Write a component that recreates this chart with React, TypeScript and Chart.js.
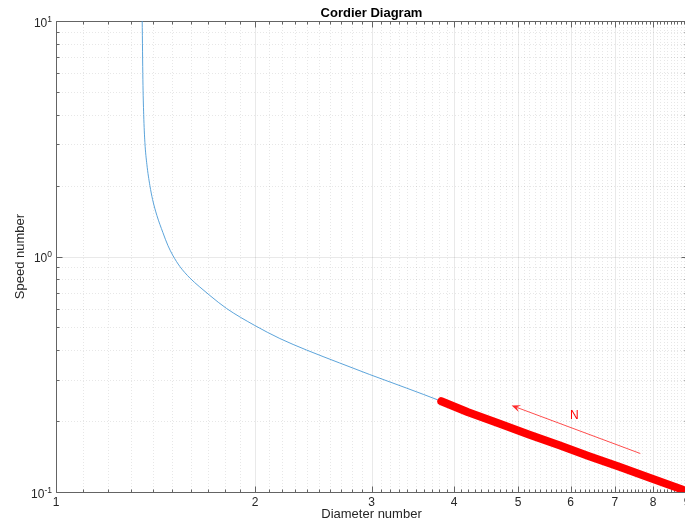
import React, { useEffect, useRef } from 'react';
import { Chart, registerables } from 'chart.js';

Chart.register(...registerables);

const FONT = "'Liberation Sans', Arial, Helvetica, sans-serif";

// Blue curve (diameter number vs speed number)
const curveX = [1.3486, 1.3500, 1.3533, 1.3571, 1.3628, 1.3723, 1.3867, 1.3998, 1.4210, 1.4509, 1.4764, 1.5023, 1.5393, 1.5940, 1.6465, 1.7089, 1.8112, 1.9984, 2.1800, 2.3919, 2.6853, 2.9806, 3.3869, 3.8245, 4.2, 4.69, 5.2, 5.77, 6.4, 7.11, 7.9, 8.85, 9.0];
const curveY = [12.34, 10.05, 5.645, 4.009, 3.049, 2.459, 2.002, 1.746, 1.493, 1.264, 1.114, 1.010, 0.9069, 0.8102, 0.7458, 0.6830, 0.6015, 0.5093, 0.4485, 0.4009, 0.3530, 0.3155, 0.2764, 0.2429, 0.218, 0.195, 0.175, 0.158, 0.142, 0.128, 0.115, 0.1025, 0.100];

// Red operating segment
const opX = [3.825, 4.2, 4.69, 5.2, 5.77, 6.4, 7.11, 7.9, 8.85, 9.0];
const opY = [0.243, 0.218, 0.195, 0.175, 0.158, 0.142, 0.128, 0.115, 0.1025, 0.100];

// Axes
const xMajorTicks = [1, 2, 3, 4, 5, 6, 7, 8, 9];
const xTickLabels = ['1', '2', '3', '4', '5', '6', '7', '8', '9'];
const yMajorTicks = [0.1, 1, 10];
const yTickExponents = ['-1', '0', '1'];
const yDecades = [0.1, 1];
const yMinorMultipliers = [2, 3, 4, 5, 6, 7, 8, 9];

// Annotation (data coordinates)
const arrowTail = [7.65, 0.1457];
const arrowTip = [4.886, 0.233];
const arrowLabelPos = [6.08, 0.2133];
const arrowLabel = 'N';

const titleText = 'Cordier Diagram';
const xTitle = 'Diameter number';
const yTitle = 'Speed number';

const xMinorTicks: number[] = [];
for (let i = 0; i < xMajorTicks.length - 1; i++) {
  const a = xMajorTicks[i];
  const b = xMajorTicks[i + 1];
  for (let k = 1; k < 10; k++) xMinorTicks.push(a + ((b - a) * k) / 10);
}
const yMinorTicks: number[] = [];
yDecades.forEach((d) => yMinorMultipliers.forEach((m) => yMinorTicks.push(d * m)));

const AXIS_COLOR = 'rgb(100,100,100)';
const TEXT_COLOR = '#262626';

const axesPlugin = {
  id: 'matlabAxes',
  beforeDatasetsDraw(chart: any) {
    const { ctx, chartArea: a } = chart;
    const xs = chart.scales.x;
    const ys = chart.scales.y;
    const px = (v: number) => Math.round(xs.getPixelForValue(v)) + 0.5;
    const py = (v: number) => Math.round(ys.getPixelForValue(v)) + 0.5;
    ctx.save();
    ctx.beginPath();
    ctx.rect(a.left, a.top, a.right - a.left, a.bottom - a.top);
    ctx.clip();
    ctx.lineWidth = 1;
    // minor grid (dotted)
    ctx.strokeStyle = 'rgba(38,38,38,0.11)';
    ctx.setLineDash([1, 2]);
    ctx.beginPath();
    xMinorTicks.forEach((v) => {
      const p = px(v);
      ctx.moveTo(p, a.top);
      ctx.lineTo(p, a.bottom);
    });
    yMinorTicks.forEach((v) => {
      const p = py(v);
      ctx.moveTo(a.left, p);
      ctx.lineTo(a.right, p);
    });
    ctx.stroke();
    // major grid (solid)
    ctx.setLineDash([]);
    ctx.strokeStyle = 'rgba(38,38,38,0.10)';
    ctx.beginPath();
    xMajorTicks.forEach((v) => {
      const p = px(v);
      ctx.moveTo(p, a.top);
      ctx.lineTo(p, a.bottom);
    });
    yMajorTicks.forEach((v) => {
      const p = py(v);
      ctx.moveTo(a.left, p);
      ctx.lineTo(a.right, p);
    });
    ctx.stroke();
    ctx.restore();

    // box + inward ticks
    ctx.save();
    ctx.strokeStyle = AXIS_COLOR;
    ctx.lineWidth = 1;
    const L = px(xMajorTicks[0]);
    const R = px(xMajorTicks[xMajorTicks.length - 1]);
    const B = py(yMajorTicks[0]);
    const T = py(yMajorTicks[yMajorTicks.length - 1]);
    ctx.beginPath();
    ctx.moveTo(L, T);
    ctx.lineTo(L, B);
    ctx.lineTo(R, B);
    ctx.lineTo(R, T);
    ctx.lineTo(L, T);
    const major = 6;
    const minor = 3;
    xMajorTicks.forEach((v) => {
      const p = px(v);
      ctx.moveTo(p, B); ctx.lineTo(p, B - major);
      ctx.moveTo(p, T); ctx.lineTo(p, T + major);
    });
    xMinorTicks.forEach((v) => {
      const p = px(v);
      ctx.moveTo(p, B); ctx.lineTo(p, B - minor);
      ctx.moveTo(p, T); ctx.lineTo(p, T + minor);
    });
    yMajorTicks.forEach((v) => {
      const p = py(v);
      ctx.moveTo(L, p); ctx.lineTo(L + major, p);
      ctx.moveTo(R, p); ctx.lineTo(R - major, p);
    });
    yMinorTicks.forEach((v) => {
      const p = py(v);
      ctx.moveTo(L, p); ctx.lineTo(L + minor, p);
      ctx.moveTo(R, p); ctx.lineTo(R - minor, p);
    });
    ctx.stroke();
    ctx.restore();
  },
  afterDatasetsDraw(chart: any) {
    const { ctx } = chart;
    const xs = chart.scales.x;
    const ys = chart.scales.y;
    const x0 = xs.getPixelForValue(arrowTail[0]);
    const y0 = ys.getPixelForValue(arrowTail[1]);
    const x1 = xs.getPixelForValue(arrowTip[0]);
    const y1 = ys.getPixelForValue(arrowTip[1]);
    const len = Math.hypot(x1 - x0, y1 - y0);
    const ux = (x1 - x0) / len;
    const uy = (y1 - y0) / len;
    const nx = -uy;
    const ny = ux;
    const hl = 9;
    const hw = 3.6;
    ctx.save();
    ctx.strokeStyle = '#ff0000';
    ctx.lineWidth = 0.7;
    ctx.beginPath();
    ctx.moveTo(x0, y0);
    ctx.lineTo(x1 - ux * hl * 0.6, y1 - uy * hl * 0.6);
    ctx.stroke();
    ctx.fillStyle = '#ff2a2a';
    ctx.beginPath();
    ctx.moveTo(x1, y1);
    ctx.lineTo(x1 - ux * hl + nx * hw, y1 - uy * hl + ny * hw);
    ctx.lineTo(x1 - ux * hl * 0.6, y1 - uy * hl * 0.6);
    ctx.lineTo(x1 - ux * hl - nx * hw, y1 - uy * hl - ny * hw);
    ctx.closePath();
    ctx.fill();
    ctx.fillStyle = '#ff0000';
    ctx.font = `12px ${FONT}`;
    ctx.textAlign = 'center';
    ctx.textBaseline = 'alphabetic';
    ctx.fillText(arrowLabel, xs.getPixelForValue(arrowLabelPos[0]), ys.getPixelForValue(arrowLabelPos[1]) + 4.3);
    ctx.restore();
  },
  afterDraw(chart: any) {
    const { ctx, chartArea: a } = chart;
    const xs = chart.scales.x;
    const ys = chart.scales.y;
    ctx.save();
    ctx.fillStyle = TEXT_COLOR;
    // x tick labels
    ctx.font = `12px ${FONT}`;
    ctx.textAlign = 'center';
    ctx.textBaseline = 'alphabetic';
    xMajorTicks.forEach((v, i) => {
      ctx.fillText(xTickLabels[i], xs.getPixelForValue(v), a.bottom + 14);
    });
    // y tick labels 10^e
    yMajorTicks.forEach((v, i) => {
      const p = ys.getPixelForValue(v);
      ctx.font = `8.5px ${FONT}`;
      const ew = ctx.measureText(yTickExponents[i]).width;
      ctx.font = `12px ${FONT}`;
      const bw = ctx.measureText('10').width;
      const right = a.left - 4;
      ctx.textAlign = 'left';
      ctx.fillText('10', right - ew - bw, p + 5.5);
      ctx.font = `8.5px ${FONT}`;
      ctx.fillText(yTickExponents[i], right - ew, p + 0.5);
    });
    // axis titles
    ctx.font = `13px ${FONT}`;
    ctx.textAlign = 'center';
    ctx.fillText(xTitle, (a.left + a.right) / 2, a.bottom + 26);
    ctx.save();
    ctx.translate(24, (a.top + a.bottom) / 2);
    ctx.rotate(-Math.PI / 2);
    ctx.fillText(yTitle, 0, 0);
    ctx.restore();
    // title
    ctx.fillStyle = '#000';
    ctx.font = `bold 13px ${FONT}`;
    ctx.fillText(titleText, (a.left + a.right) / 2, a.top - 4);
    ctx.restore();
  },
};

export default function App() {
  const ref = useRef<HTMLCanvasElement | null>(null);
  useEffect(() => {
    if (!ref.current) return;
    const chart = new Chart(ref.current, {
      type: 'line',
      data: {
        datasets: [
          {
            label: 'operating',
            data: opX.map((x, i) => ({ x, y: opY[i] })),
            borderColor: '#ff0000',
            borderWidth: 8,
            borderCapStyle: 'round',
            borderJoinStyle: 'round',
            pointRadius: 0,
            tension: 0,
            fill: false,
          },
          {
            label: 'curve',
            data: curveX.map((x, i) => ({ x, y: curveY[i] })),
            borderColor: '#4a9ad6',
            borderWidth: 0.9,
            pointRadius: 0,
            cubicInterpolationMode: 'monotone',
            fill: false,
          },
        ],
      },
      options: {
        animation: false,
        responsive: false,
        events: [],
        layout: { padding: { left: 56, top: 21, right: 13, bottom: 32 } },
        scales: {
          x: { type: 'logarithmic', min: 1, max: 9, display: false },
          y: { type: 'logarithmic', min: 0.1, max: 10, display: false },
        },
        plugins: {
          legend: { display: false },
          tooltip: { enabled: false },
          title: { display: false },
        },
      } as any,
      plugins: [axesPlugin],
    });
    return () => chart.destroy();
  }, []);
  return (
    <div style={{ position: 'fixed', left: 0, top: 0, width: 685, height: 524, overflow: 'hidden', background: '#fff' }}>
      <canvas ref={ref} width={700} height={524} style={{ width: 700, height: 524, display: 'block' }} />
    </div>
  );
}
